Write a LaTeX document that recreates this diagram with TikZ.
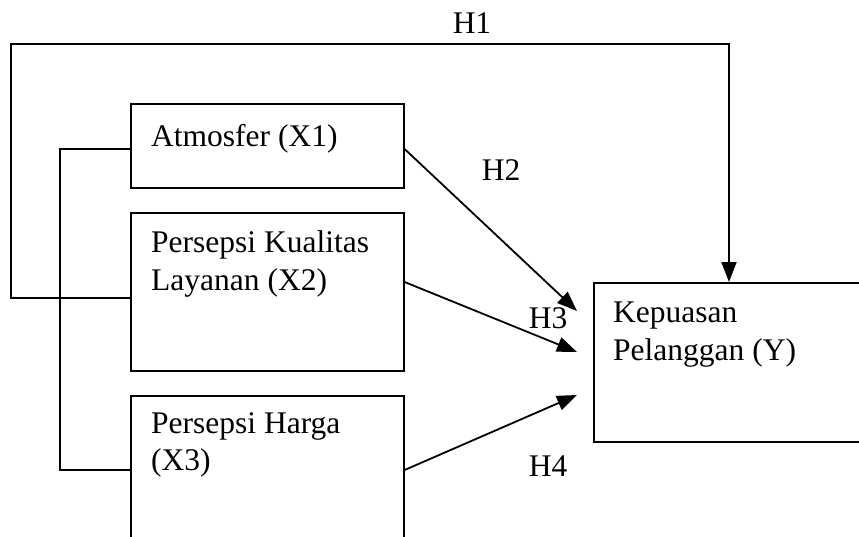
\documentclass[tikz,border=0pt]{standalone}
\usepackage{fontspec}
\setmainfont{Liberation Serif}
\usetikzlibrary{arrows.meta}
\begin{document}
\begin{tikzpicture}[x=1pt,y=-1pt,
  box/.style={draw,line width=1.6pt,inner sep=0pt,anchor=north west},
  lbl/.style={inner sep=0pt,anchor=base west,font=\fontsize{31.5}{38}\selectfont},
  hlbl/.style={inner sep=0pt,anchor=base,font=\fontsize{31.5}{38}\selectfont},
  conn/.style={line width=1.8pt},
  arr/.style={line width=1.8pt,-{Triangle[length=20pt,width=15pt]}}]
\useasboundingbox (0,0) rectangle (859,536);
\clip (0,0) rectangle (859,536);
% boxes
\node[box,minimum width=273pt,minimum height=84pt] (x1) at (130,103) {};
\node[box,minimum width=273pt,minimum height=158pt] (x2) at (130,212) {};
\node[box,minimum width=273pt,minimum height=160pt] (x3) at (130,395) {};
\node[box,minimum width=320pt,minimum height=159pt] (y) at (593,282) {};
% texts
\node[lbl] (t1) at (151,146) {Atmosfer (X1)};
\node[lbl] (t2a) at (151,252) {Persepsi Kualitas};
\node[lbl] (t2b) at (151,290) {Layanan (X2)};
\node[lbl] (t3a) at (151,433) {Persepsi Harga};
\node[lbl] (t3b) at (151,470) {(X3)};
\node[lbl] (t4a) at (613,322) {Kepuasan};
\node[lbl] (t4b) at (613,360) {Pelanggan (Y)};
% hypothesis labels
\node[hlbl] (h1) at (472,33) {H1};
\node[hlbl] (h2) at (501,180) {H2};
\node[hlbl] (h3) at (548,328) {H3};
\node[hlbl] (h4) at (548,476) {H4};
% coordinates
\coordinate (h1a) at (11,298);
\coordinate (h1b) at (729,44);
\coordinate (br) at (60,149);
\coordinate (br2) at (60,470);
\coordinate (s2) at (0,282);
\coordinate (e1) at (577,311);
\coordinate (e2) at (577,352);
\coordinate (e3) at (577,395);
% H1
\draw[arr] (x2.west |- h1a) -- (h1a) |- (h1b) -- (h1b |- y.north);
% bracket
\draw[conn] (x1.west |- br) -- (br) -- (br2) -- (x3.west |- br2);
% arrows
\draw[arr] (x1.east |- br) -- (e1);
\draw[arr] (x2.east |- s2) -- (e2);
\draw[arr] (x3.east |- br2) -- (e3);
\end{tikzpicture}
\end{document}
